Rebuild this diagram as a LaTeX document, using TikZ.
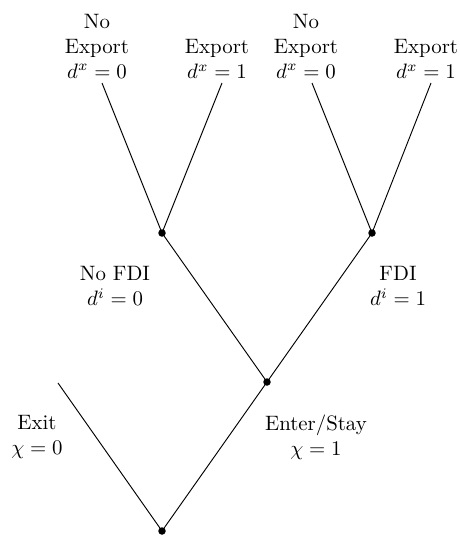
\documentclass[tikz,border=0pt]{standalone}
\begin{document}
\begin{tikzpicture}[x=0.48pt,y=-0.48pt,
  dot/.style={circle,fill=black,inner sep=0pt,minimum size=3.6pt},
  lbl/.style={align=center,inner sep=0pt},
  edge/.style={line width=0.45pt}]
\useasboundingbox (0,0) rectangle (460,541);
% decision nodes
\node[dot] (root) at (162,531) {};
\node[dot] (mid) at (267,382) {};
\node[dot] (lft) at (162,233) {};
\node[dot] (rgt) at (372,233) {};
% free ends
\coordinate (exit) at (58,383);
\coordinate (l0) at (102,83);
\coordinate (l1) at (222,83);
\coordinate (r0) at (312,83);
\coordinate (r1) at (431,83);
% edges
\draw[edge] (root.center) -- (exit);
\draw[edge] (root.center) -- (mid.center);
\draw[edge] (mid.center) -- (lft.center);
\draw[edge] (mid.center) -- (rgt.center);
\draw[edge] (lft.center) -- (l0);
\draw[edge] (lft.center) -- (l1);
\draw[edge] (rgt.center) -- (r0);
\draw[edge] (rgt.center) -- (r1);
% labels
\node[lbl] (tl0) at (97,46) {No\\Export\\$d^x=0$};
\node[lbl] (tl1) at (217,59) {Export\\$d^x=1$};
\node[lbl] (tr0) at (306,46) {No\\Export\\$d^x=0$};
\node[lbl] (tr1) at (426,59) {Export\\$d^x=1$};
\node[lbl] (tnf) at (115,286) {No FDI\\$d^i=0$};
\node[lbl] (tf) at (398,286) {FDI\\$d^i=1$};
\node[lbl] (tex) at (37,437) {Exit\\$\chi=0$};
\node[lbl] (ten) at (316,437) {Enter/Stay\\$\chi=1$};
\end{tikzpicture}
\end{document}
